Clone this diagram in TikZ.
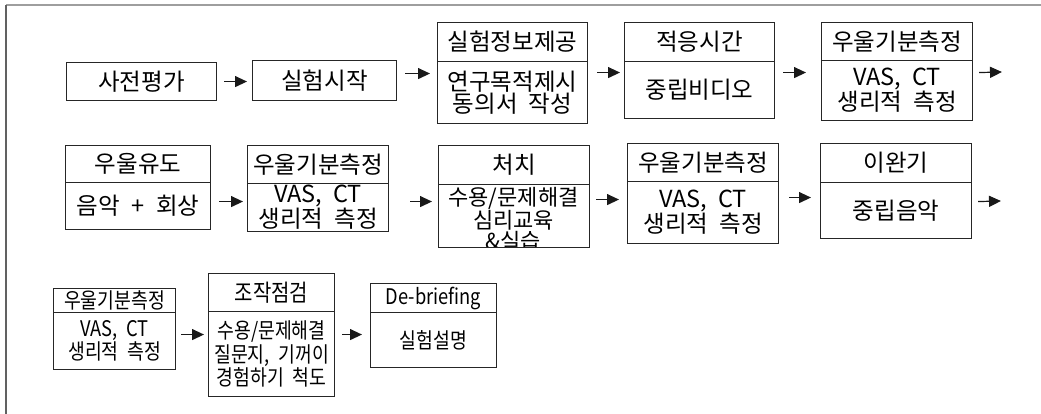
\documentclass[tikz,border=0pt]{standalone}
\usepackage{fontspec}
\setmainfont{Noto Sans CJK KR}[WordSpace=2.1]
\newfontfamily\nkr{Noto Sans CJK KR}[WordSpace=2.1,FakeStretch=0.85]
\usetikzlibrary{arrows.meta,calc}
\newcommand\kfs[2]{\fontsize{#1}{#2}\selectfont}
\begin{document}
\begin{tikzpicture}[x=1pt,y=-1pt,
  cell/.style={draw=black!85, line width=1.1pt, anchor=north west, inner sep=0pt, align=center, font=\kfs{23.5}{19}},
  small/.style={font=\nkr\kfs{21.5}{18.5}},
  arr/.style={line width=1.2pt, -{Triangle[length=12pt,width=11pt]}, black!90}
]
\useasboundingbox (0,0) rectangle (1041,414);
% frame
\draw[black!38, line width=1.6pt] (6,5) -- (1041,5);
\draw[black!62, line width=1.8pt] (6,5) -- (6,414);

% ---- row 1
\node[cell, minimum width=150, minimum height=38] (A) at (66,62) {사전평가};
\node[cell, minimum width=144, minimum height=40] (B) at (252,60) {실험시작};
\node[cell, minimum width=150, minimum height=39] (Ch) at (437,22) {실험정보제공};
\node[cell, minimum width=150, minimum height=62] (Cb) at (437,61) {연구목적제시\\동의서 작성};
\node[cell, minimum width=150, minimum height=39] (Dh) at (624,22) {적응시간};
\node[cell, minimum width=150, minimum height=57] (Db) at (624,61) {중립비디오};
\node[cell, minimum width=151, minimum height=38] (Eh) at (821,22) {우울기분측정};
\node[cell, minimum width=151, minimum height=60] (Eb) at (821,60) {VAS, CT\\생리적 측정};
\coordinate (E2) at (1002,72);

\draw[arr] ($(A.east)+(7,0)$) -- ($(A.east -| B.west)+(-5,0)$);
\draw[arr] ($(B.east)+(8,-7)$) -- ($(B.east -| Cb.west)+(-7,-7)$);
\draw[arr] ($(Cb.east)+(9,-20)$) -- ($(Cb.east -| Db.west)+(-4,-20)$);
\draw[arr] ($(Db.east)+(8,-17.5)$) -- ($(Db.east -| Eb.west)+(-15,-17.5)$);
\draw[arr] ($(Eb.east)+(6,-18)$) -- (E2);

% ---- row 2
\node[cell, minimum width=145, minimum height=37] (Fh) at (65,145) {우울유도};
\node[cell, minimum width=145, minimum height=47] (Fb) at (65,182) {음악\hspace{0.5em}+\hspace{0.5em}회상};
\node[cell, minimum width=141, minimum height=38] (Gh) at (247,145) {우울기분측정};
\node[cell, minimum width=141, minimum height=48] (Gb) at (247,183) {VAS, CT\\생리적 측정};
\node[cell, minimum width=151, minimum height=39] (Hh) at (438,145) {처치};
\begin{scope}
  \clip (438,184) rectangle (589,247);
  \node[align=center, inner sep=0pt, font=\kfs{22}{18}] (Ht) at (513.5,219) {수용/문제해결\\심리교육\\\&실습};
\end{scope}
\node[cell, minimum width=151, minimum height=63] (Hb) at (438,184) {};
\node[cell, minimum width=151, minimum height=38] (Ih) at (627,143) {우울기분측정};
\node[cell, minimum width=151, minimum height=62] (Ib) at (627,181) {VAS, CT\\생리적 측정};
\node[cell, minimum width=151, minimum height=39] (Jh) at (820,143) {이완기};
\node[cell, minimum width=151, minimum height=56] (Jb) at (820,182) {중립음악};
\coordinate (J2) at (1001,201);

\draw[arr] ($(Fb.east)+(8,-4.5)$) -- ($(Fb.east -| Gb.west)+(-4,-4.5)$);
\draw[arr] ($(Gb.east)+(21,-6)$) -- ($(Gb.east -| Hb.west)+(-6,-6)$);
\draw[arr] ($(Hb.east)+(6,-16.5)$) -- ($(Hb.east -| Ib.west)+(-8,-16.5)$);
\draw[arr] ($(Ib.east)+(10,-15)$) -- ($(Ib.east -| Jb.west)+(-9,-15)$);
\draw[arr] ($(Jb.east)+(6,-9)$) -- (J2);

% ---- row 3
\node[cell, small, minimum width=122, minimum height=24] (Kh) at (53,288) {우울기분측정};
\node[cell, small, minimum width=122, minimum height=57] (Kb) at (53,312) {VAS, CT\\생리적 측정};
\node[cell, small, font=\nkr\kfs{23.5}{19}, minimum width=126, minimum height=38] (Lh) at (208,273) {조작점검};
\node[cell, small, font=\nkr\kfs{21.5}{23.5}, minimum width=126, minimum height=85] (Lb) at (208,311) {수용/문제해결\\질문지, 기꺼이\\경험하기 척도};
\node[cell, small, minimum width=126, minimum height=29] (Mh) at (370,283) {De-briefing};
\node[cell, small, minimum width=126, minimum height=55] (Mb) at (370,312) {실험설명};

\draw[arr] ($(Kb.east)+(5,-6.5)$) -- ($(Kb.east -| Lb.west)+(-4,-6.5)$);
\draw[arr] ($(Lb.east)+(7,-19.5)$) -- ($(Lb.east -| Mb.west)+(-8,-19.5)$);
\end{tikzpicture}
\end{document}
